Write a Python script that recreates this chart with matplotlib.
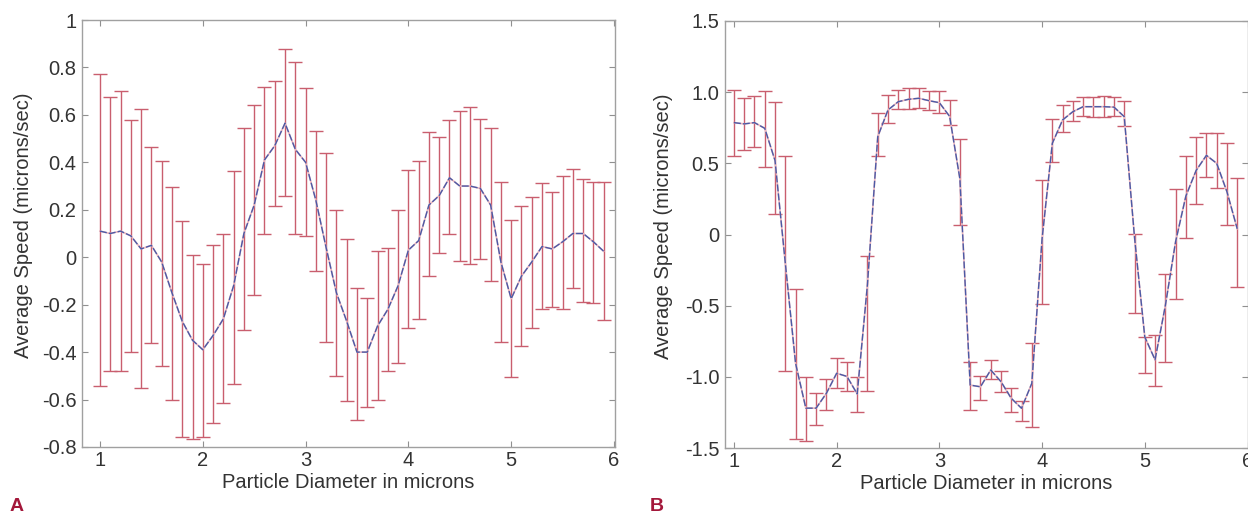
import numpy as np
import matplotlib
matplotlib.use("Agg")
import matplotlib.pyplot as plt

plt.rcParams["font.family"] = ["Liberation Sans", "DejaVu Sans"]

INK, SPINE = "#333333", "#a0a0a0"
BAR, PINK, BLUE = "#c95e6e", "#eab4bd", "#4a5aa6"
TAG = "#a3173a"

diam = [1.0, 1.1, 1.2, 1.3, 1.4, 1.5, 1.6, 1.7, 1.8, 1.9,
        2.0, 2.1, 2.2, 2.3, 2.4, 2.5, 2.6, 2.7, 2.8, 2.9,
        3.0, 3.1, 3.2, 3.3, 3.4, 3.5, 3.6, 3.7, 3.8, 3.9,
        4.0, 4.1, 4.2, 4.3, 4.4, 4.5, 4.6, 4.7, 4.8, 4.9,
        5.0, 5.1, 5.2, 5.3, 5.4, 5.5, 5.6, 5.7, 5.8, 5.9]

# panel A
a_mean = [0.11, 0.10, 0.11, 0.09, 0.035, 0.05, -0.02, -0.15, -0.27, -0.35,
          -0.39, -0.33, -0.26, -0.12, 0.10, 0.22, 0.41, 0.47, 0.565, 0.455,
          0.40, 0.24, 0.04, -0.15, -0.27, -0.40, -0.40, -0.29, -0.22, -0.12,
          0.03, 0.07, 0.22, 0.26, 0.335, 0.30, 0.30, 0.29, 0.22, -0.02,
          -0.175, -0.08, -0.02, 0.045, 0.035, 0.065, 0.10, 0.10, 0.065, 0.025]
a_hi = [0.772, 0.676, 0.70, 0.578, 0.623, 0.463, 0.406, 0.297, 0.152, 0.011,
        -0.027, 0.053, 0.10, 0.363, 0.543, 0.641, 0.716, 0.743, 0.876, 0.821,
        0.712, 0.533, 0.44, 0.198, 0.075, -0.128, -0.17, 0.027, 0.037, 0.198,
        0.367, 0.406, 0.529, 0.505, 0.578, 0.616, 0.632, 0.582, 0.543, 0.318,
        0.156, 0.215, 0.252, 0.311, 0.276, 0.343, 0.374, 0.328, 0.318, 0.318]
a_lo = [-0.543, -0.48, -0.48, -0.40, -0.55, -0.36, -0.46, -0.60, -0.758, -0.765,
        -0.758, -0.70, -0.615, -0.533, -0.305, -0.16, 0.10, 0.215, 0.259, 0.10,
        0.089, -0.058, -0.357, -0.50, -0.606, -0.685, -0.632, -0.60, -0.48, -0.445,
        -0.30, -0.259, -0.079, 0.018, 0.097, -0.015, -0.027, -0.006, -0.10, -0.357,
        -0.505, -0.374, -0.30, -0.217, -0.21, -0.217, -0.128, -0.189, -0.193, -0.266]

# panel B
b_mean = [0.786, 0.777, 0.786, 0.746, 0.52, -0.20, -0.905, -1.22, -1.22, -1.116,
          -0.975, -0.997, -1.12, -0.35, 0.687, 0.875, 0.933, 0.95, 0.957, 0.94,
          0.926, 0.83, 0.39, -1.058, -1.07, -0.952, -1.034, -1.151, -1.221, -1.046,
          -0.03, 0.641, 0.805, 0.863, 0.898, 0.898, 0.898, 0.895, 0.828, -0.02,
          -0.72, -0.88, -0.50, -0.05, 0.27, 0.45, 0.556, 0.50, 0.30, 0.04]
b_hi = [1.015, 0.961, 0.973, 1.01, 0.929, 0.554, -0.385, -1.004, -1.116, -1.015,
        -0.87, -0.894, -0.999, -0.15, 0.856, 0.98, 1.015, 1.027, 1.032, 1.008,
        1.008, 0.945, 0.669, -0.894, -0.992, -0.882, -0.957, -1.081, -1.168, -0.765,
        0.383, 0.81, 0.91, 0.94, 0.968, 0.964, 0.973, 0.964, 0.94, 0.005,
        -0.718, -0.706, -0.278, 0.318, 0.55, 0.683, 0.711, 0.711, 0.645, 0.395]
b_lo = [0.554, 0.594, 0.617, 0.472, 0.144, -0.957, -1.44, -1.449, -1.339, -1.233,
        -1.081, -1.10, -1.245, -1.098, 0.554, 0.786, 0.88, 0.88, 0.891, 0.875,
        0.856, 0.77, 0.067, -1.233, -1.163, -1.015, -1.109, -1.245, -1.308, -1.355,
        -0.488, 0.512, 0.723, 0.797, 0.833, 0.823, 0.823, 0.833, 0.762, -0.55,
        -0.976, -1.062, -0.894, -0.456, -0.025, 0.216, 0.404, 0.328, 0.067, -0.371]

x_ticks = [1, 2, 3, 4, 5, 6]
a_yticks = [-0.8, -0.6, -0.4, -0.2, 0, 0.2, 0.4, 0.6, 0.8, 1]
a_ylabels = ["-0.8", "-0.6", "-0.4", "-0.2", "0", "0.2", "0.4", "0.6", "0.8", "1"]
b_yticks = [-1.5, -1.0, -0.5, 0, 0.5, 1.0, 1.5]
b_ylabels = ["-1.5", "-1.0", "-0.5", "0", "0.5", "1.0", "1.5"]

W, H = 1248, 514
fig = plt.figure(figsize=(W / 100, H / 100), dpi=100)
ax1 = fig.add_axes([82 / W, 1 - 447 / H, (615 - 82) / W, 427 / H])
ax2 = fig.add_axes([725 / W, 1 - 448 / H, (1247.5 - 725) / W, 427 / H])


def panel(ax, mean, lo, hi, xlim, ylim, yt, ytl, lab_x):
    m, l, h = np.array(mean), np.array(lo), np.array(hi)
    ax.errorbar(diam, m, yerr=[m - l, h - m], fmt="none", ecolor=BAR,
                elinewidth=1.0, capsize=5, capthick=1.0, zorder=2)
    ax.plot(diam, m, color=PINK, lw=1.2, zorder=3)
    ax.plot(diam, m, color=BLUE, lw=1.0, ls=(0, (5, 1.5)), zorder=4)
    ax.set_xlim(*xlim)
    ax.set_ylim(*ylim)
    ax.set_xticks(x_ticks)
    ax.set_xticklabels([str(t) for t in x_ticks])
    ax.set_yticks(yt)
    ax.set_yticklabels(ytl)
    ax.tick_params(direction="in", length=4, width=0.8, color="#909090",
                   top=True, right=True, labelsize=14.5, labelcolor=INK)
    ax.tick_params(axis="x", pad=3)
    ax.tick_params(axis="y", pad=4)
    for s in ax.spines.values():
        s.set_color(SPINE)
        s.set_linewidth(1.0)
    ax.set_xlabel("Particle Diameter in microns", fontsize=14.5, color=INK, labelpad=2)
    ax.set_ylabel("Average Speed (microns/sec)", fontsize=14.5, color=INK)
    ax.yaxis.set_label_coords(lab_x, 0.52)


panel(ax1, a_mean, a_lo, a_hi, (0.825, 6.01), (-0.8, 1.0), a_yticks, a_ylabels, -0.092)
panel(ax2, b_mean, b_lo, b_hi, (0.913, 6.0), (-1.5, 1.5), b_yticks, b_ylabels, -0.099)

fig.text(10 / W, 1 - 511 / H, "A", fontsize=14, fontweight="bold", color=TAG,
         va="baseline", ha="left")
fig.text(650 / W, 1 - 511 / H, "B", fontsize=14, fontweight="bold", color=TAG,
         va="baseline", ha="left")

fig.savefig("out.png", facecolor="white")
